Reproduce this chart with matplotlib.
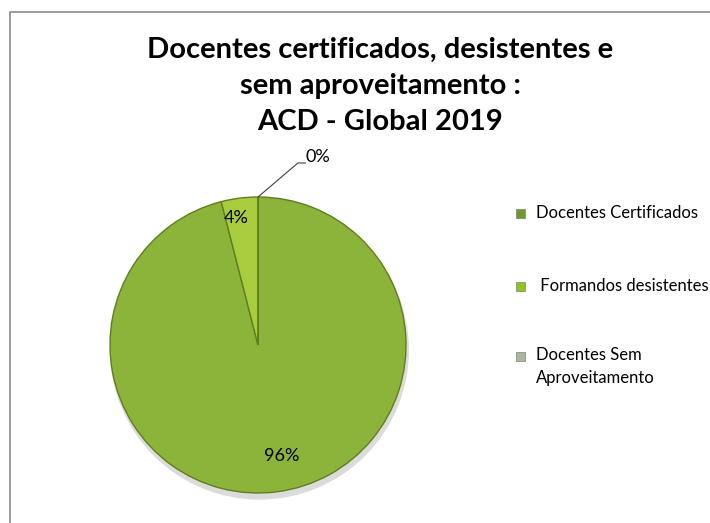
import matplotlib
matplotlib.use("Agg")
import matplotlib.pyplot as plt
from matplotlib.patches import Rectangle, Ellipse

plt.rcParams["font.family"] = ["Lato", "DejaVu Sans"]

# Data (percent of total)
categories = ["Docentes Certificados", " Formandos desistentes", "Docentes Sem\nAproveitamento"]
values = [96.0, 4.0, 0.0]
pct_labels = ["96%", "4%", "0%"]

slice_colors = ["#8cb33a", "#a9cc3f", "#b5c98a"]
edge_color = "#5f7f1f"
legend_colors = ["#6f9a2a", "#8fc31f", "#a9b89a"]

title = "Docentes certificados, desistentes e\nsem aproveitamento :\nACD - Global 2019"

W, H = 710, 523
fig = plt.figure(figsize=(W / 100, H / 100), dpi=100)

# chart frame (runs off the right and bottom edges)
fig.patches.append(Rectangle((10 / W, -0.05), 1.0, 1 - 12 / H + 0.05,
                             transform=fig.transFigure, fill=False,
                             edgecolor="#8c8c8c", linewidth=1.2))

fig.text(380 / W, 1 - 86 / H, title, ha="center", va="center",
         fontsize=21, fontweight="bold", linespacing=1.5, color="black")

# pie axes: centre (258, 345), radius 148 px
cx, cy, r = 258, 345, 148
ax = fig.add_axes([(cx - r) / W, (H - cy - r) / H, 2 * r / W, 2 * r / H])

wedges, _ = ax.pie(values, colors=slice_colors, startangle=90,
                   counterclock=False, radius=1.0,
                   wedgeprops=dict(edgecolor=edge_color, linewidth=1.0))
for w in wedges:
    w.set_zorder(2)

ax.set_xlim(-1.0, 1.0)
ax.set_ylim(-1.0, 1.0)
ax.set_aspect("equal")
ax.axis("off")

# soft shadow under the pie
ax.add_patch(Ellipse((0.01, -0.035), 2.02, 2.02, facecolor="#c4c4c4",
                     edgecolor="none", alpha=0.6, zorder=0, clip_on=False))

# percent labels
ax.text(0.16, -0.75, pct_labels[0], ha="center", va="center", fontsize=13)
ax.text(-0.15, 0.86, pct_labels[1], ha="center", va="center", fontsize=13)
# leader line for the 0% slice
ax.plot([0.0, 0.27, 0.32], [1.0, 1.23, 1.23], color="#404040",
        linewidth=0.8, clip_on=False)
ax.text(0.32, 1.27, pct_labels[2], ha="left", va="center", fontsize=13)

# legend
leg_y = [213, 286, 356]
for name, col, y in zip(categories, legend_colors, leg_y):
    fig.patches.append(Rectangle((516 / W, 1 - (y + 4.5) / H), 9 / W, 9 / H,
                                 transform=fig.transFigure, facecolor=col,
                                 edgecolor="#7f7f7f", linewidth=0.5))
    fig.text(536 / W, 1 - (y - 9 if "\n" in name else y) / H, name, ha="left",
             va="top" if "\n" in name else "center",
             fontsize=12, linespacing=1.5)

fig.savefig("out.png", dpi=100)
